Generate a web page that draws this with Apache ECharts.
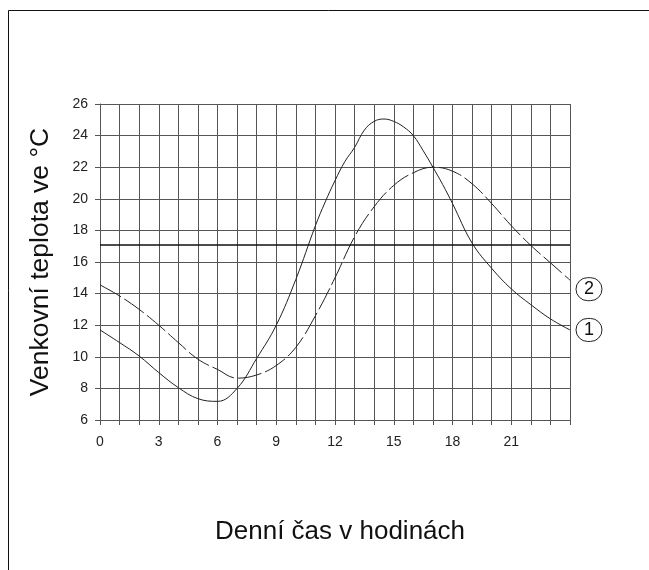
<!DOCTYPE html>
<html>
<head>
<meta charset="utf-8">
<script src="https://cdn.jsdelivr.net/npm/echarts@6/dist/echarts.min.js"></script>
<style>
  html, body { margin: 0; padding: 0; background: #fff; }
  #chart { width: 649px; height: 570px; }
</style>
</head>
<body>
<div id="chart"></div>
<script>
// křivka 1 (plná) - hodiny, kolem vrcholu po půlhodinách
const curve1Hours = [0, 1, 2, 3, 4, 5, 6, 7, 8, 9, 10, 11, 11.5, 12, 12.5, 13, 13.5, 14, 14.5, 15, 15.5, 16, 16.5, 17, 17.5, 18, 19, 20, 21, 22, 23, 24];
const curve1 = [11.7, 10.9, 10.05, 9.0, 8.05, 7.35, 7.18, 8.0, 9.9, 12.0, 14.9, 18.3, 19.8, 21.15, 22.35, 23.25, 24.35, 24.9, 25.05, 24.9, 24.55, 24.0, 23.05, 22.0, 20.9, 19.7, 17.2, 15.6, 14.3, 13.3, 12.4, 11.7];
// křivka 2 (čárkovaná)
const curve2Hours = [0, 1, 2, 3, 4, 5, 6, 7, 8, 9, 10, 11, 12, 13, 14, 15, 16, 17, 18, 19, 20, 21, 22, 23, 24];
const curve2 = [14.55, 13.85, 13.0, 12.0, 10.9, 9.85, 9.2, 8.65, 8.85, 9.45, 10.6, 12.6, 15.0, 17.6, 19.5, 20.85, 21.65, 22.0, 21.75, 20.95, 19.7, 18.3, 17.05, 15.95, 14.85];
// vodorovná hranice teploty
const limitTemp = 17.1;
const xTicks = [0, 3, 6, 9, 12, 15, 18, 21];

const font = "Liberation Sans";
const chart = echarts.init(document.getElementById("chart"));

const pairs = (xs, ys) => xs.map((x, i) => [x, ys[i]]);

// kroužek s číslem na konci křivky
const circleLabel = (text, dy) => ({
  show: true,
  formatter: text,
  distance: 19,
  offset: [0, dy],
  width: 26,
  height: 23,
  lineHeight: 23,
  align: "center",
  borderColor: "#222",
  borderWidth: 1,
  borderRadius: 12,
  fontFamily: font,
  fontSize: 18,
  color: "#111",
});

const option = {
  animation: false,
  backgroundColor: "#fff",
  grid: { left: 100, right: 79, top: 104, bottom: 150 },
  xAxis: {
    type: "value",
    min: 0,
    max: 24,
    interval: 1,
    name: "Denní čas v hodinách",
    nameLocation: "middle",
    nameGap: 99,
    nameTextStyle: { fontFamily: font, fontSize: 26, color: "#111", padding: [0, 0, 0, 10] },
    axisLine: { lineStyle: { color: "#555", width: 1 } },
    axisTick: { show: true, length: 5, lineStyle: { color: "#555" } },
    axisLabel: {
      fontFamily: font,
      fontSize: 14,
      color: "#222",
      margin: 15,
      formatter: (v) => (xTicks.indexOf(v) >= 0 ? String(v) : ""),
    },
    splitLine: { show: true, lineStyle: { color: "#555", width: 1 } },
  },
  yAxis: {
    type: "value",
    min: 6,
    max: 26,
    interval: 2,
    name: "Venkovní teplota ve °C",
    nameLocation: "middle",
    nameRotate: 90,
    nameGap: 46,
    nameTextStyle: { fontFamily: font, fontSize: 26.5, color: "#111" },
    axisLine: { show: true, lineStyle: { color: "#555", width: 1 } },
    axisTick: { show: true, length: 5, lineStyle: { color: "#555" } },
    axisLabel: { fontFamily: font, fontSize: 14, color: "#222", margin: 12 },
    splitLine: { show: true, lineStyle: { color: "#555", width: 1 } },
  },
  series: [
    {
      name: "1",
      type: "line",
      data: pairs(curve1Hours, curve1),
      smooth: 0.4,
      showSymbol: false,
      lineStyle: { color: "#222", width: 1 },
      endLabel: circleLabel("1", 0),
      markLine: {
        silent: true,
        symbol: "none",
        label: { show: false },
        lineStyle: { color: "#111", width: 1.5, type: "solid" },
        data: [{ yAxis: limitTemp }],
      },
    },
    {
      name: "2",
      type: "line",
      data: pairs(curve2Hours, curve2),
      smooth: 0.4,
      showSymbol: false,
      lineStyle: { color: "#222", width: 1, type: [24, 4] },
      endLabel: circleLabel("2", 9),
    },
  ],
  graphic: [
    // rámeček obrázku (vlevo a nahoře)
    {
      type: "polyline",
      shape: { points: [[8.5, 570], [8.5, 10.5], [649, 10.5]] },
      style: { stroke: "#111", lineWidth: 1, fill: null },
    },
  ],
};

chart.setOption(option);
</script>
</body>
</html>
